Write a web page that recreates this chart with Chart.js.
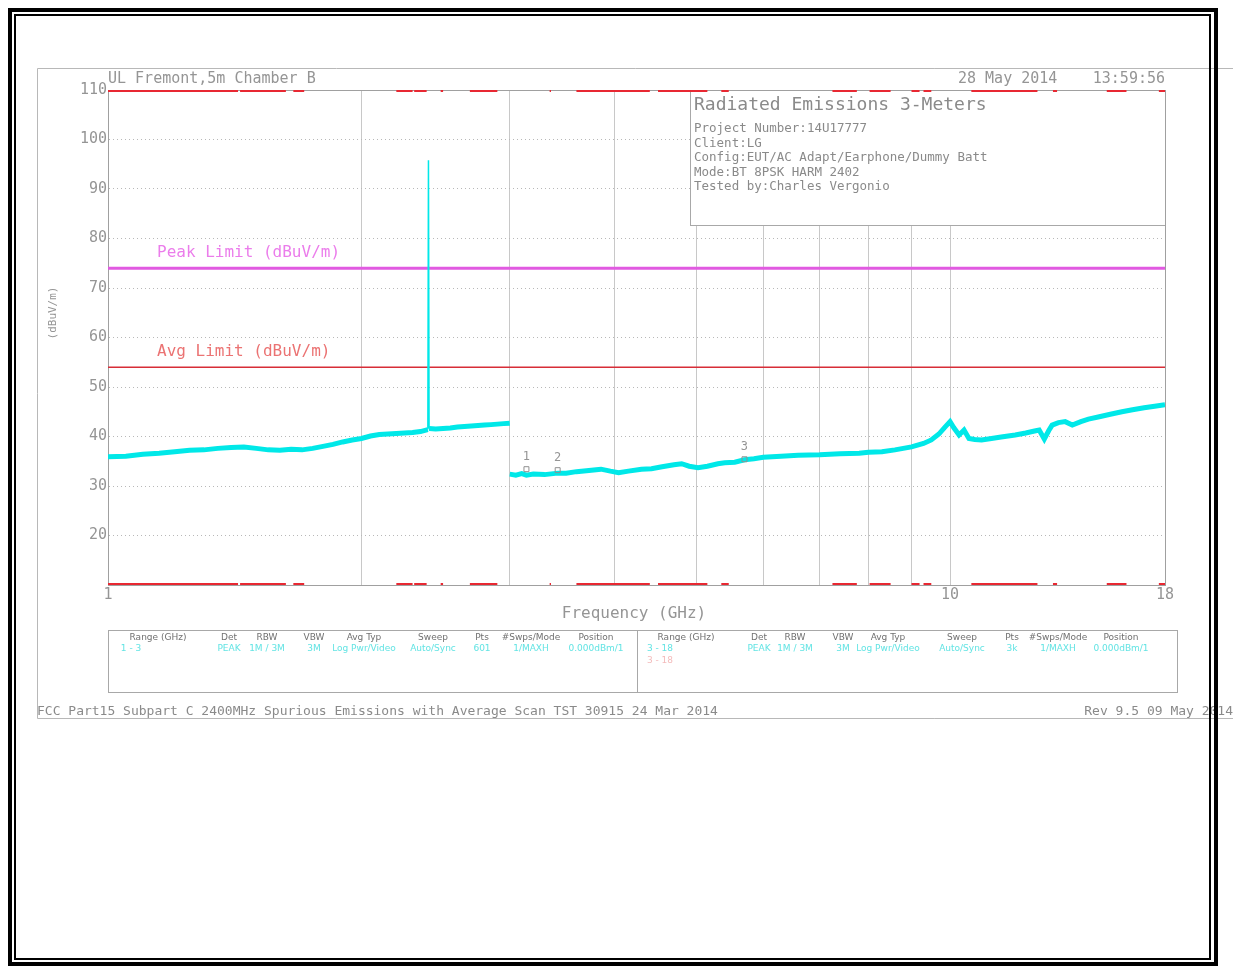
<!DOCTYPE html>
<html>
<head>
<meta charset="utf-8">
<script src="https://cdn.jsdelivr.net/npm/chart.js@4.4.1/dist/chart.umd.min.js"></script>
<style>
  html, body { margin: 0; padding: 0; background: #fff; }
  canvas { display: block; }
</style>
</head>
<body>
<canvas id="emiChart" width="1233" height="966"></canvas>
<script>
// ---- values ----
// scan 1: 1 - 3 GHz (GHz / dBuV/m)
const scan1Freq = [1.00, 1.05, 1.10, 1.15, 1.20, 1.25, 1.30, 1.35, 1.40, 1.45, 1.50, 1.55, 1.60, 1.65, 1.70,
  1.75, 1.80, 1.85, 1.90, 1.95, 2.00, 2.05, 2.10, 2.15, 2.20, 2.25, 2.30, 2.35, 2.398, 2.402, 2.406,
  2.45, 2.50, 2.55, 2.60, 2.65, 2.70, 2.75, 2.80, 2.85, 2.90, 2.95, 3.00];
const scan1Level = [35.9, 36.0, 36.4, 36.6, 36.9, 37.2, 37.3, 37.6, 37.8, 37.9, 37.6, 37.3, 37.2, 37.4, 37.3,
  37.6, 38.0, 38.4, 38.9, 39.3, 39.6, 40.1, 40.4, 40.5, 40.6, 40.7, 40.8, 41.0, 41.4, 95.8, 41.6,
  41.5, 41.6, 41.7, 41.9, 42.0, 42.1, 42.2, 42.3, 42.4, 42.5, 42.6, 42.7];

// scan 2: 3 - 18 GHz
const scan2Freq = [3.00, 3.05, 3.10, 3.14, 3.20, 3.30, 3.42, 3.50, 3.60, 3.70, 3.80, 3.85, 3.95, 4.04, 4.15,
  4.30, 4.42, 4.55, 4.70, 4.80, 4.90, 5.02, 5.15, 5.30, 5.40, 5.55, 5.70, 5.85, 6.00, 6.30, 6.60, 7.00,
  7.40, 7.80, 8.00, 8.30, 8.60, 9.00, 9.30, 9.50, 9.70, 9.85, 10.00, 10.10, 10.25, 10.39, 10.53, 10.70,
  10.90, 11.20, 11.50, 11.95, 12.30, 12.60, 12.76, 12.94, 13.10, 13.22, 13.45, 13.70, 13.97, 14.30,
  14.60, 15.04, 15.50, 16.00, 16.47, 17.00, 17.50, 18.00];
const scan2Level = [32.4, 32.2, 32.5, 32.2, 32.4, 32.3, 32.6, 32.6, 32.9, 33.1, 33.3, 33.4, 33.0, 32.7, 33.0,
  33.4, 33.5, 33.9, 34.3, 34.5, 34.0, 33.7, 34.0, 34.5, 34.7, 34.8, 35.3, 35.5, 35.8, 36.0, 36.2, 36.3,
  36.5, 36.6, 36.8, 36.9, 37.3, 37.9, 38.6, 39.3, 40.5, 41.8, 43.0, 41.8, 40.3, 41.3, 39.6, 39.4,
  39.3, 39.6, 39.9, 40.3, 40.7, 41.1, 41.3, 39.5, 41.2, 42.3, 42.8, 43.0, 42.3, 43.0,
  43.5, 44.0, 44.5, 45.0, 45.4, 45.8, 46.1, 46.4];

const peakLimit = 74;   // dBuV/m
const avgLimit = 54;    // dBuV/m

// restricted bands shown as red bars along top and bottom (GHz)
const restrictedBands = [[1.0, 1.427], [1.435, 1.6265], [1.645, 1.6465], [1.66, 1.71], [1.7188, 1.7222],
  [2.2, 2.3], [2.31, 2.39], [2.4835, 2.5], [2.69, 2.9], [3.26, 3.267], [3.332, 3.339], [3.3458, 3.358],
  [3.6, 4.4], [4.5, 5.15], [5.35, 5.46], [7.25, 7.75], [8.025, 8.5], [9.0, 9.2], [9.3, 9.5],
  [10.6, 12.7], [13.25, 13.4], [14.47, 14.5], [15.35, 16.2], [17.7, 21.4]];

const markerNames = ['1', '2', '3'];
const markerFreq = [3.14, 3.42, 5.70];
const markerLevel = [33.4, 33.2, 35.4];

const xGridTicks = [1, 2, 3, 4, 5, 6, 7, 8, 9, 10, 18];
const xTickLabels = [1, 10, 18];
const yMin = 10, yMax = 110, yStep = 10;

// ---- build library data ----
const toXY = (fs, ls) => fs.map((f, i) => ({ x: f, y: ls[i] }));
const bandPoints = level => {
  const pts = [];
  restrictedBands.forEach(b => {
    pts.push({ x: b[0], y: level }, { x: b[1], y: level }, { x: b[1], y: null });
  });
  return pts;
};

const MONO = "'DejaVu Sans Mono', monospace";
const CYAN = 'rgb(0, 232, 232)';
const TXT = '#959595';

const decor = {
  id: 'decor',
  beforeDraw(chart) {
    const c = chart.ctx;
    c.save();
    c.fillStyle = '#fff';
    c.fillRect(0, 0, chart.width, chart.height);
    // light frame of the plot image
    c.strokeStyle = '#b8b8b8';
    c.lineWidth = 1;
    c.beginPath();
    c.moveTo(1233, 68.5); c.lineTo(37.5, 68.5); c.lineTo(37.5, 718.5); c.lineTo(1233, 718.5);
    c.stroke();
    c.restore();
  },
  beforeDatasetsDraw(chart) {
    const c = chart.ctx, a = chart.chartArea;
    c.save();
    // info box in the upper right
    c.fillStyle = '#fff';
    c.fillRect(690, a.top, a.right - 690, 225 - a.top);
    c.strokeStyle = '#a8a8a8';
    c.lineWidth = 1;
    c.strokeRect(690.5, a.top + 0.5, a.right - 690, 225 - a.top);
    // plot border
    c.strokeStyle = '#a0a0a0';
    c.strokeRect(a.left + 0.5, a.top + 0.5, a.right - a.left, a.bottom - a.top);
    c.restore();
  },
  afterDatasetsDraw(chart) {
    const c = chart.ctx;
    const xs = chart.scales.x, ys = chart.scales.y;
    c.save();
    c.font = '12px ' + MONO;
    c.fillStyle = TXT;
    c.textAlign = 'center';
    c.textBaseline = 'middle';
    markerNames.forEach((n, i) => {
      c.fillText(n, xs.getPixelForValue(markerFreq[i]), ys.getPixelForValue(markerLevel[i]) - 12);
    });
    // limit labels
    c.textAlign = 'left';
    c.font = '16px ' + MONO;
    c.fillStyle = 'rgb(235, 125, 235)';
    c.fillText('Peak Limit (dBuV/m)', 157, ys.getPixelForValue(peakLimit) - 15);
    c.fillStyle = 'rgb(235, 115, 115)';
    c.fillText('Avg Limit (dBuV/m)', 157, ys.getPixelForValue(avgLimit) - 15);
    c.restore();
  },
  afterDraw(chart) {
    const c = chart.ctx, a = chart.chartArea;
    c.save();
    c.textBaseline = 'middle';
    c.fillStyle = TXT;
    // header line
    c.font = '15px ' + MONO;
    c.textAlign = 'left';
    c.fillText('UL Fremont,5m Chamber B', 108, 79);
    c.fillText('28 May 2014', 958, 79);
    c.textAlign = 'right';
    c.fillText('13:59:56', a.right, 79);
    // info box text
    c.textAlign = 'left';
    c.fillStyle = '#8a8a8a';
    c.font = '18px ' + MONO;
    c.fillText('Radiated Emissions 3-Meters', 694, 105);
    c.font = '12.5px ' + MONO;
    const info = ['Project Number:14U17777', 'Client:LG', 'Config:EUT/AC Adapt/Earphone/Dummy Batt',
      'Mode:BT 8PSK HARM 2402', 'Tested by:Charles Vergonio'];
    info.forEach((t, i) => c.fillText(t, 694, 129 + i * 14.5));
    // axis titles
    c.fillStyle = TXT;
    c.font = '16px ' + MONO;
    c.textAlign = 'center';
    c.fillText('Frequency (GHz)', 634, 614);
    c.save();
    c.translate(53, 313);
    c.rotate(-Math.PI / 2);
    c.font = '11px ' + MONO;
    c.fillText('(dBuV/m)', 0, 0);
    c.restore();
    // settings table
    c.strokeStyle = '#a8a8a8';
    c.lineWidth = 1;
    c.strokeRect(108.5, 630.5, 529, 62);
    c.strokeRect(637.5, 630.5, 540, 62);
    const heads = ['Range (GHz)', 'Det', 'RBW', 'VBW', 'Avg Typ', 'Sweep', 'Pts', '#Swps/Mode', 'Position'];
    const cols1 = [158, 229, 267, 314, 364, 433, 482, 531, 596];
    const cols2 = [686, 759, 795, 843, 888, 962, 1012, 1058, 1121];
    const row1 = ['1 - 3', 'PEAK', '1M / 3M', '3M', 'Log Pwr/Video', 'Auto/Sync', '601', '1/MAXH', '0.000dBm/1'];
    const row2 = ['3 - 18', 'PEAK', '1M / 3M', '3M', 'Log Pwr/Video', 'Auto/Sync', '3k', '1/MAXH', '0.000dBm/1'];
    c.font = "9px 'DejaVu Sans'";
    c.fillStyle = '#707070';
    heads.forEach((h, i) => { c.fillText(h, cols1[i], 638); c.fillText(h, cols2[i], 638); });
    c.fillStyle = 'rgb(100, 228, 228)';
    row1.forEach((t, i) => c.fillText(t, i === 0 ? 131 : cols1[i], 649));
    row2.forEach((t, i) => c.fillText(t, i === 0 ? 660 : cols2[i], 649));
    c.fillStyle = 'rgba(235, 140, 140, 0.6)';
    c.fillText('3 - 18', 660, 661);
    // footer
    c.fillStyle = '#8a8a8a';
    c.font = '13px ' + MONO;
    c.textAlign = 'left';
    c.fillText('FCC Part15 Subpart C 2400MHz Spurious Emissions with Average Scan TST 30915 24 Mar 2014', 37, 712);
    c.textAlign = 'right';
    c.fillText('Rev 9.5 09 May 2014', 1233, 712);
    // black page frame
    c.strokeStyle = '#000';
    c.lineWidth = 4;
    c.strokeRect(10, 10, 1206, 954);
    c.lineWidth = 2;
    c.strokeRect(15, 15, 1195, 944);
    c.restore();
  }
};

const ctx = document.getElementById('emiChart');

new Chart(ctx, {
  type: 'line',
  data: {
    datasets: [
      {
        label: 'Restricted bands top',
        data: bandPoints(yMax),
        borderColor: 'rgb(232, 40, 50)',
        borderWidth: 4,
        pointRadius: 0,
        spanGaps: false
      },
      {
        label: 'Restricted bands bottom',
        data: bandPoints(yMin),
        borderColor: 'rgb(232, 40, 50)',
        borderWidth: 4,
        pointRadius: 0,
        spanGaps: false
      },
      {
        label: 'Markers',
        data: toXY(markerFreq, markerLevel),
        showLine: false,
        pointStyle: 'rect',
        pointRadius: 3.5,
        borderColor: '#909090',
        borderWidth: 1,
        backgroundColor: 'rgba(0,0,0,0)'
      },
      {
        label: 'Scan 1-3 GHz',
        data: toXY(scan1Freq, scan1Level),
        borderColor: CYAN,
        borderWidth: 5,
        pointRadius: 0,
        tension: 0,
        segment: {
          borderWidth: s => (s.p0.parsed.y > 60 || s.p1.parsed.y > 60) ? 1.5 : undefined
        }
      },
      {
        label: 'Scan 3-18 GHz',
        data: toXY(scan2Freq, scan2Level),
        borderColor: CYAN,
        borderWidth: 5,
        pointRadius: 0,
        tension: 0
      },
      {
        label: 'Peak Limit',
        data: [{ x: 1, y: peakLimit }, { x: 18, y: peakLimit }],
        borderColor: 'rgb(225, 90, 225)',
        borderWidth: 3,
        pointRadius: 0
      },
      {
        label: 'Avg Limit',
        data: [{ x: 1, y: avgLimit }, { x: 18, y: avgLimit }],
        borderColor: 'rgb(215, 45, 55)',
        borderWidth: 1.5,
        pointRadius: 0
      }
    ]
  },
  options: {
    responsive: false,
    animation: false,
    layout: { padding: { left: 48, right: 68, top: 90, bottom: 341 } },
    plugins: {
      legend: { display: false },
      tooltip: { enabled: false }
    },
    scales: {
      x: {
        type: 'logarithmic',
        min: 1,
        max: 18,
        afterBuildTicks: s => { s.ticks = xGridTicks.map(v => ({ value: v })); },
        afterFit: s => { s.height = 40; },
        ticks: {
          autoSkip: false,
          maxRotation: 0,
          padding: 1,
          color: TXT,
          font: { family: MONO, size: 15 },
          callback: v => xTickLabels.includes(v) ? String(v) : ''
        },
        grid: { color: '#c8c8c8', drawTicks: false },
        border: { color: '#a0a0a0' }
      },
      y: {
        min: yMin,
        max: yMax,
        afterFit: s => { s.width = 60; },
        ticks: {
          stepSize: yStep,
          padding: 1,
          color: TXT,
          font: { family: MONO, size: 15 },
          callback: v => v === yMin ? '' : String(v)
        },
        grid: { color: '#b8b8b8', drawTicks: false },
        border: { color: '#a0a0a0', dash: [1, 3] }
      }
    }
  },
  plugins: [decor]
});
</script>
</body>
</html>
